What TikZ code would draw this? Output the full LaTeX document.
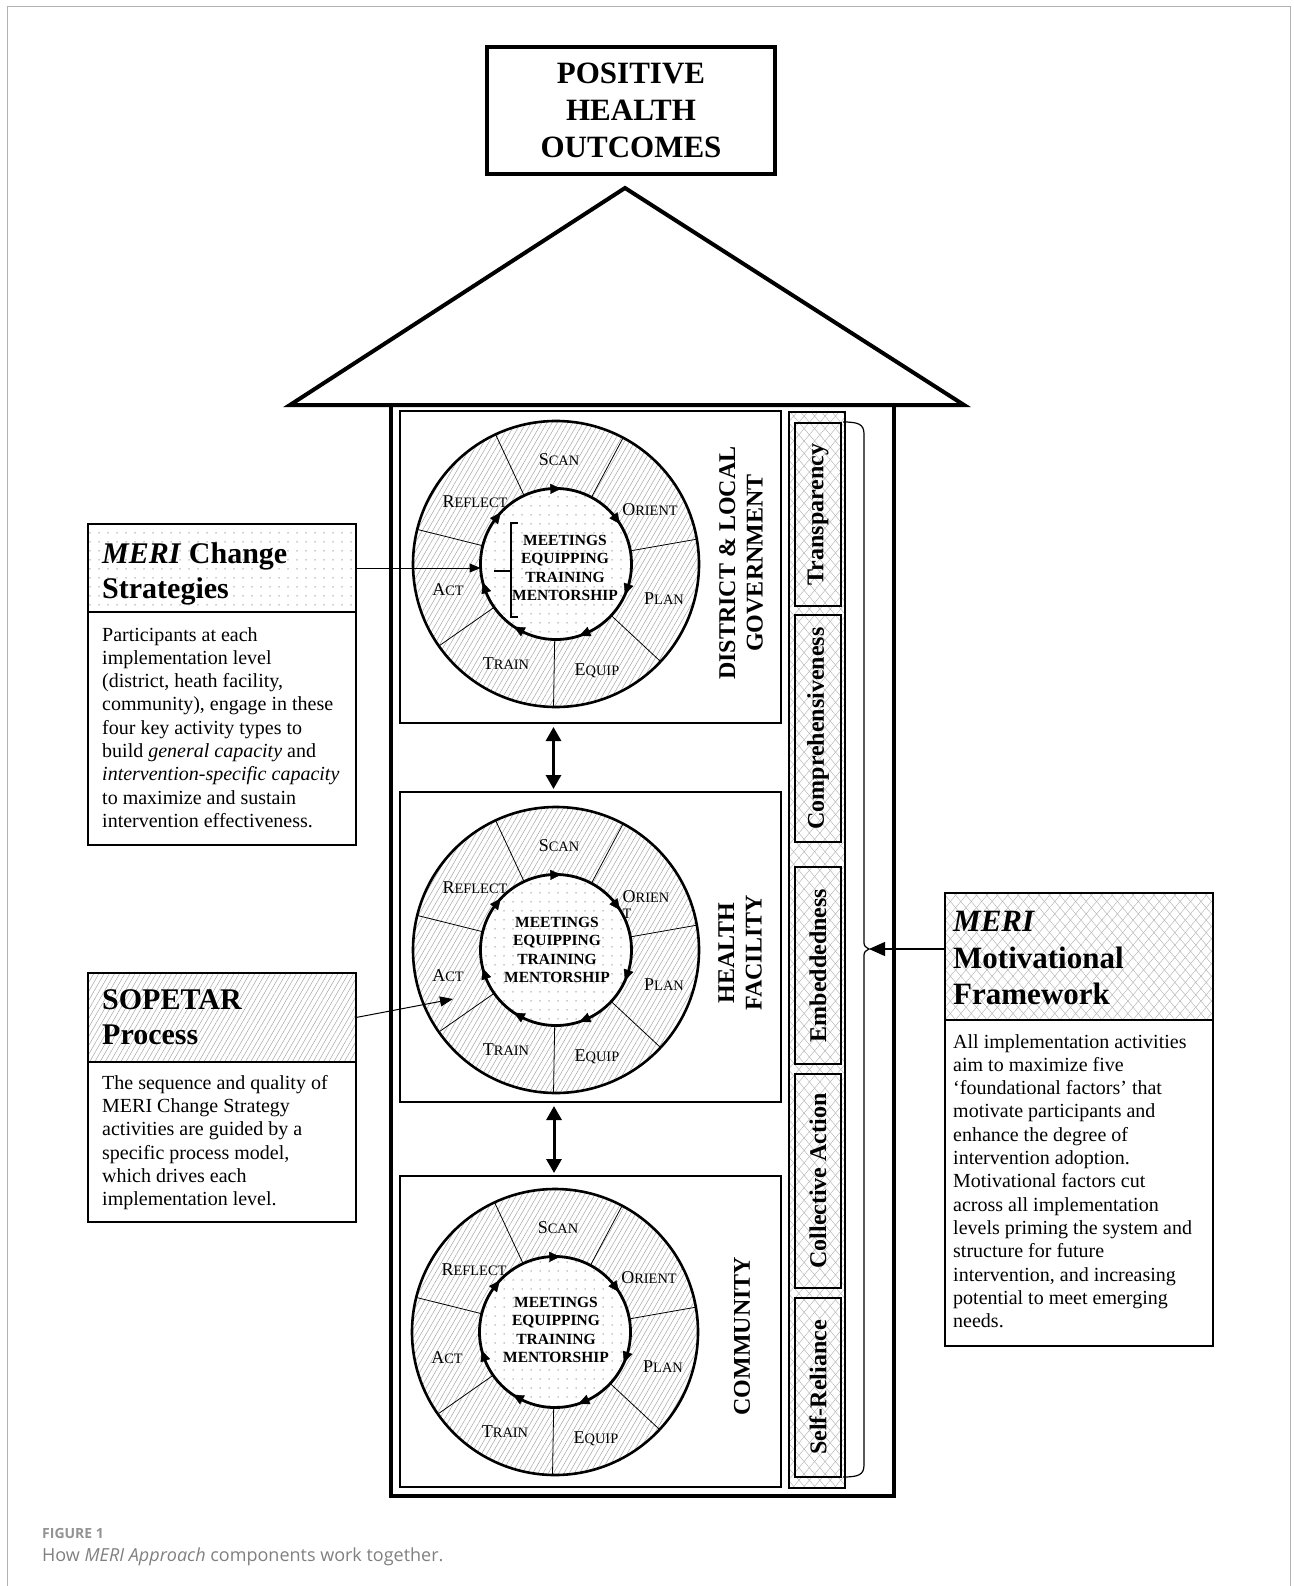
\documentclass[tikz,border=0pt]{standalone}
\usepackage{fontspec}
\setmainfont{Liberation Serif}
\newfontfamily\capfont{Open Sans}
\usetikzlibrary{arrows.meta,patterns.meta,calc}

\newcommand{\fsc}[2]{{\fontsize{18}{18}\selectfont #1}{\fontsize{14.4}{14.4}\selectfont #2}}

\tikzset{
 hatch/.style={pattern={Lines[angle=60,distance=4.5pt,line width=0.5pt]}, pattern color=gray!70},
 dotty/.style={pattern={Dots[distance=9pt,radius=0.75pt]}, pattern color=gray!80},
 xhatch/.style={preaction={pattern={Lines[angle=50,distance=8pt,line width=0.45pt]}, pattern color=gray!60}, pattern={Lines[angle=-50,distance=8pt,line width=0.45pt]}, pattern color=gray!60},
 segtxt/.style={inner sep=0, font=\fontsize{18}{18}\selectfont},
 ctrtxt/.style={align=center, inner sep=0, font=\bfseries\fontsize{15.5}{18.6}\selectfont},
 lvltxt/.style={rotate=90, align=center, inner sep=0, font=\bfseries\fontsize{24}{27.5}\selectfont},
 factxt/.style={rotate=90, inner sep=0, font=\bfseries\fontsize{24}{24}\selectfont},
 facbox/.style={draw, line width=1.8pt, minimum width=46pt, anchor=north west, inner sep=0, outer sep=0},
 lvlbox/.style={draw, line width=1.8pt, minimum width=381pt, anchor=north west, inner sep=0, outer sep=0},
 bodytxt/.style={align=left, anchor=north west, inner sep=0, font=\fontsize{20}{23.3}\selectfont},
 headtxt/.style={align=left, anchor=north west, inner sep=0, font=\bfseries\fontsize{30}{35}\selectfont},
 sidebox/.style={draw, line width=1.4pt, anchor=north west, inner sep=0, outer sep=0, minimum width=268pt},
 cwtip/.style={line width=0.4pt, -{Triangle[length=11pt,width=10pt]}},
 dblarrow/.style={line width=3pt, {Triangle[length=14pt,width=15pt]}-{Triangle[length=14pt,width=15pt]}, shorten <=4pt, shorten >=3pt},
}

\newcommand{\sopcircle}[3]{%
 \node[circle, draw, line width=2.6pt, minimum size=286pt, inner sep=0, outer sep=0, preaction={fill=white}, hatch] (#1out) at (#2,#3) {};
 \node[circle, draw, line width=2.8pt, minimum size=151pt, inner sep=0, outer sep=0, preaction={fill=white}, dotty] (#1in) at (#2,#3) {};
 \foreach \a in {115,62,10,-43,-91,-145,166} \draw[line width=0.8pt] (#1in.\a) -- (#1out.\a);
 \foreach \a [evaluate=\a as \b using int(\a+6), evaluate=\a as \c using int(\a-4)] in {90,36,-20,-68,-120,-162,141} \draw[cwtip] (#1in.\b) -- (#1in.\c);
 \node[segtxt] (#1scan) at ($(#1in.center)+(3,-104)$) {\fsc{S}{CAN}};
 \node[segtxt] (#1plan) at ($(#1in.center)+(108,35)$) {\fsc{P}{LAN}};
 \node[segtxt] (#1equip) at ($(#1in.center)+(41,107)$) {\fsc{E}{QUIP}};
 \node[segtxt] (#1train) at ($(#1in.center)+(-50,100)$) {\fsc{T}{RAIN}};
 \node[segtxt] (#1act) at ($(#1in.center)+(-108,26)$) {\fsc{A}{CT}};
 \node[segtxt] (#1reflect) at ($(#1in.center)+(-81,-62)$) {\fsc{R}{EFLECT}};
}

\begin{document}
\begin{tikzpicture}[x=1pt,y=-1pt]
\useasboundingbox (0,0) rectangle (1293,1586);
\draw[gray!60, line width=1pt] (7,1590) -- (7,7) -- (1290,7) -- (1290,1590);

% roof and top box
\coordinate (rl) at (290,405);
\coordinate (ra) at (625,188);
\coordinate (rr) at (964,405);
\draw[line width=4pt, line join=miter] (rl) -- (ra) -- (rr) -- cycle;
\node[draw, line width=4pt, minimum width=288pt, minimum height=127pt, align=center, font=\bfseries\fontsize{31}{37}\selectfont] (pho) at (631,110.5) {POSITIVE\\HEALTH\\OUTCOMES};

% house walls
\draw[line width=4pt, line join=miter] (391,405) -- (391,1496) -- (894,1496) -- (894,405);

% level boxes
\node[lvlbox, minimum height=312pt] (lvA) at (400,411) {};
\node[lvlbox, minimum height=310pt] (lvB) at (400,792) {};
\node[lvlbox, minimum height=311pt] (lvC) at (400,1176) {};

% SOPETAR circles
\sopcircle{cA}{556}{564}
\sopcircle{cB}{556}{950}
\sopcircle{cC}{555}{1332}
\node[segtxt] (cAorient) at ($(cAin.center)+(94,-54)$) {\fsc{O}{RIENT}};
\node[segtxt, align=left] (cBorient) at ($(cBin.center)+(90,-45)$) {\fsc{O}{RIEN}\\[-2pt]\fsc{}{T}};
\node[segtxt] (cCorient) at ($(cCin.center)+(94,-54)$) {\fsc{O}{RIENT}};

\node[ctrtxt] (cAtxt) at (565,568) {MEETINGS\\EQUIPPING\\TRAINING\\MENTORSHIP};
\node[ctrtxt] (cBtxt) at (557,950) {MEETINGS\\EQUIPPING\\TRAINING\\MENTORSHIP};
\node[ctrtxt] (cCtxt) at (556,1330) {MEETINGS\\EQUIPPING\\TRAINING\\MENTORSHIP};

% bracket in first circle
\draw[line width=1.2pt] (518,523) -- (511,523) -- (511,617) -- (518,617);
\draw[line width=1.2pt] (511,571) -- (494,571);

% level labels
\node[lvltxt] (lvAt) at (741,563) {DISTRICT \& LOCAL\\GOVERNMENT};
\node[lvltxt] (lvBt) at (740,953) {HEALTH\\FACILITY};
\node[lvltxt] (lvCt) at (742,1336) {COMMUNITY};

% level arrows
\draw[dblarrow] ([xshift=-37pt]lvA.south) -- ([xshift=-37pt]lvB.north);
\draw[dblarrow] ([xshift=-36.5pt]lvB.south) -- ([xshift=-36.5pt]lvC.north);

% factor column
\node[draw, line width=1.2pt, minimum width=56pt, minimum height=1076pt, anchor=north west, inner sep=0, outer sep=0, xhatch] (col) at (789,412) {};
\node[facbox, minimum height=183pt] (fT) at (795,423) {};
\node[facbox, minimum height=227pt] (fC) at (795,615) {};
\node[facbox, minimum height=197pt] (fE) at (795,867) {};
\node[facbox, minimum height=214pt] (fA) at (795,1074) {};
\node[facbox, minimum height=179pt] (fS) at (795,1298) {};
\node[factxt] (fTt) at (fT.center) {Transparency};
\node[factxt] (fCt) at (fC.center) {Comprehensiveness};
\node[factxt] (fEt) at (fE.center) {Embeddedness};
\node[factxt] (fAt) at (fA.center) {Collective Action};
\node[factxt] (fSt) at (fS.center) {Self-Reliance};

% brace
\coordinate (btip) at (869,949);
\draw[line width=1.2pt] (843,422) .. controls (858,422) and (864,424) .. (864,434) -- (864,940) .. controls (864,946) .. (btip) .. controls (864,952) .. (864,958) -- (864,1465) .. controls (864,1475) and (858,1477) .. (843,1477);

% MERI Change Strategies
\node[sidebox, minimum height=88pt, dotty] (mcsH) at (88,524) {};
\node[sidebox, minimum height=233pt] (mcsB) at (88,612) {};
\node[headtxt] (mcsHt) at (102,542) {\textit{MERI} Change\\Strategies};
\node[bodytxt] (mcsBt) at (102,627) {Participants at each\\implementation level\\(district, heath facility,\\community), engage in these\\four key activity types to\\build \textit{general capacity} and\\\textit{intervention-specific capacity}\\to maximize and sustain\\intervention effectiveness.};

% SOPETAR Process
\node[sidebox, minimum height=89pt, hatch] (sopH) at (88,973) {};
\node[sidebox, minimum height=160pt] (sopB) at (88,1062) {};
\node[headtxt] (sopHt) at (102,989) {SOPETAR\\Process};
\node[bodytxt] (sopBt) at (102,1075) {The sequence and quality of\\MERI Change Strategy\\activities are guided by a\\specific process model,\\which drives each\\implementation level.};

% MERI Motivational Framework
\node[sidebox, minimum height=127pt, xhatch] (motH) at (945,893) {};
\node[sidebox, minimum height=326pt] (motB) at (945,1020) {};
\node[headtxt, font=\bfseries\fontsize{31}{36.5}\selectfont] (motHt) at (953,911) {\textit{MERI}\\Motivational\\Framework};
\node[bodytxt] (motBt) at (953,1034) {All implementation activities\\aim to maximize five\\‘foundational factors’ that\\motivate participants and\\enhance the degree of\\intervention adoption.\\Motivational factors cut\\across all implementation\\levels priming the system and\\structure for future\\intervention, and increasing\\potential to meet emerging\\needs.};

% connectors
\coordinate (sopTip) at (453,999);
\draw[line width=1pt, -{Triangle[length=11pt,width=9pt]}] (mcsH.east) -- (cAin.west |- mcsH.east);
\draw[line width=1pt, -{Triangle[length=13pt,width=10pt]}] (sopH.east) -- (sopTip);
\draw[line width=1.2pt, -{Triangle[length=16pt,width=14pt]}] ([yshift=7.5pt]motH.west) -- (btip);

% caption
\node[anchor=west, inner sep=0, text=gray!85, font=\capfont\bfseries\fontsize{14}{14}\selectfont] (figno) at (42,1533) {FIGURE 1};
\node[anchor=west, inner sep=0, text=gray, font=\capfont\fontsize{18}{18}\selectfont] (caption) at (42,1557) {How \textit{MERI Approach} components work together.};
\end{tikzpicture}
\end{document}
